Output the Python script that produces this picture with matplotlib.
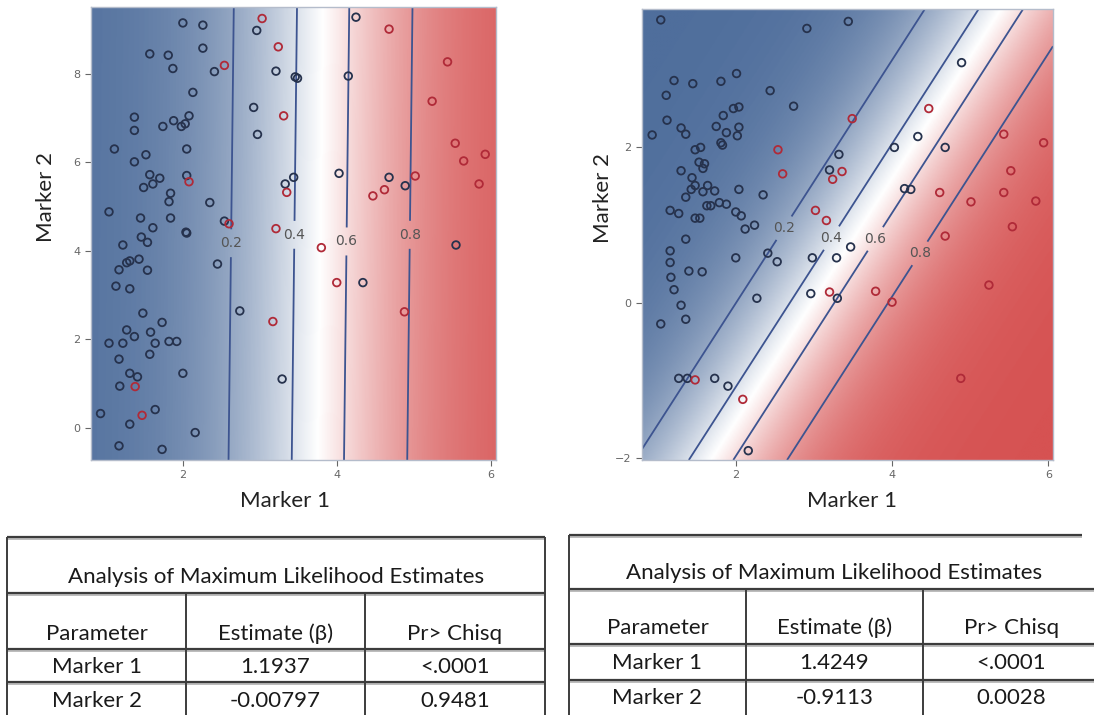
import numpy as np
import matplotlib
matplotlib.use("Agg")
import matplotlib.pyplot as plt
from matplotlib.colors import LinearSegmentedColormap

# ---------------- data ----------------
# Left panel (Marker 1 vs Marker 2), outcome 0 = dark, 1 = red
left_m1 = [2.00, 2.26, 3.03, 2.96, 4.25, 4.68, 2.26, 3.24, 1.57, 1.81, 1.87, 2.54, 2.41, 3.21,
           3.46, 3.49, 4.15, 5.44, 2.13, 5.24, 2.92, 3.31, 1.37, 2.08, 1.88, 1.74, 1.98, 2.03,
           1.37, 2.97, 1.11, 2.05, 5.54, 5.65, 5.93, 1.52, 1.37, 1.57, 1.70, 1.61, 1.49, 2.05,
           2.08, 1.84, 1.82, 2.35, 3.44, 3.33, 3.35, 4.03, 4.68, 4.62, 4.47, 4.89, 5.02, 5.85,
           1.04, 1.45, 1.84, 1.61, 2.04, 2.05, 2.54, 2.60, 3.21, 1.46, 1.54, 1.22, 5.55, 3.80,
           1.43, 1.31, 1.27, 1.17, 1.54, 2.45, 4.00, 4.34, 1.13, 1.31, 1.48, 2.74, 4.88, 1.73,
           3.17, 1.27, 1.58, 1.37, 1.04, 1.22, 1.64, 1.82, 1.92, 1.57, 1.17, 1.31, 1.41, 2.00,
           3.29, 1.18, 1.38, 0.93, 1.64, 1.47, 1.31, 2.16, 1.17, 1.73]
left_m2 = [9.15, 9.10, 9.25, 8.98, 9.28, 9.01, 8.58, 8.61, 8.45, 8.42, 8.12, 8.19, 8.05, 8.06,
           7.93, 7.90, 7.95, 8.27, 7.58, 7.38, 7.24, 7.05, 7.02, 7.05, 6.94, 6.81, 6.81, 6.87,
           6.72, 6.63, 6.30, 6.30, 6.43, 6.03, 6.18, 6.17, 6.01, 5.72, 5.64, 5.51, 5.43, 5.70,
           5.56, 5.30, 5.11, 5.09, 5.66, 5.51, 5.32, 5.75, 5.66, 5.38, 5.24, 5.47, 5.69, 5.51,
           4.88, 4.74, 4.74, 4.52, 4.42, 4.40, 4.67, 4.61, 4.50, 4.31, 4.19, 4.13, 4.13, 4.07,
           3.81, 3.77, 3.73, 3.57, 3.56, 3.70, 3.28, 3.28, 3.20, 3.14, 2.59, 2.64, 2.62, 2.38,
           2.40, 2.21, 2.16, 2.06, 1.91, 1.91, 1.91, 1.95, 1.95, 1.66, 1.55, 1.23, 1.15, 1.23,
           1.10, 0.94, 0.93, 0.32, 0.41, 0.28, 0.08, -0.11, -0.41, -0.49]
left_out = [0, 0, 1, 0, 0, 1, 0, 1, 0, 0, 0, 1, 0, 0,
            0, 0, 0, 1, 0, 1, 0, 1, 0, 0, 0, 0, 0, 0,
            0, 0, 0, 0, 1, 1, 1, 0, 0, 0, 0, 0, 0, 0,
            1, 0, 0, 0, 0, 0, 1, 0, 0, 1, 1, 0, 1, 1,
            0, 0, 0, 0, 0, 0, 0, 1, 1, 0, 0, 0, 0, 1,
            0, 0, 0, 0, 0, 0, 1, 0, 0, 0, 0, 0, 1, 0,
            1, 0, 0, 0, 0, 0, 0, 0, 0, 0, 0, 0, 0, 0,
            0, 0, 1, 0, 0, 1, 0, 0, 0, 0]

# Right panel
right_m1 = [1.04, 2.91, 3.44, 4.89, 2.01, 1.21, 1.45, 1.81, 2.44, 1.11, 2.74, 1.97, 2.04, 4.47,
            1.84, 1.12, 3.49, 1.75, 2.04, 1.30, 1.36, 1.88, 2.02, 0.93, 4.33, 5.43, 5.94, 1.81,
            1.83, 1.48, 1.55, 2.54, 4.03, 4.68, 3.32, 1.53, 1.60, 1.58, 1.30, 1.44, 2.60, 3.20,
            3.36, 3.24, 5.52, 1.48, 1.64, 1.43, 1.58, 1.73, 2.04, 2.35, 1.36, 4.16, 4.24, 4.61,
            5.43, 5.01, 5.84, 1.63, 1.68, 1.79, 1.88, 1.16, 1.27, 2.00, 2.07, 3.02, 1.48, 1.54,
            3.16, 2.12, 2.24, 5.54, 4.68, 1.36, 3.47, 1.16, 2.41, 2.00, 2.98, 3.29, 2.53, 1.16,
            1.40, 1.57, 1.17, 1.21, 2.96, 3.20, 3.79, 2.27, 3.30, 5.24, 4.00, 1.30, 1.36, 1.04,
            1.27, 1.38, 1.48, 1.73, 1.90, 4.88, 2.09, 2.16]
right_m2 = [3.64, 3.53, 3.62, 3.09, 2.95, 2.86, 2.82, 2.85, 2.73, 2.67, 2.53, 2.50, 2.52, 2.50,
            2.41, 2.35, 2.37, 2.27, 2.26, 2.25, 2.17, 2.19, 2.15, 2.16, 2.14, 2.17, 2.06, 2.06,
            2.03, 1.97, 2.00, 1.97, 2.00, 2.00, 1.91, 1.81, 1.79, 1.73, 1.70, 1.61, 1.66, 1.71,
            1.69, 1.59, 1.70, 1.51, 1.51, 1.46, 1.43, 1.44, 1.46, 1.39, 1.36, 1.47, 1.46, 1.42,
            1.42, 1.30, 1.31, 1.25, 1.25, 1.29, 1.27, 1.19, 1.15, 1.17, 1.12, 1.19, 1.09, 1.09,
            1.06, 0.95, 1.00, 0.98, 0.86, 0.82, 0.72, 0.67, 0.64, 0.58, 0.58, 0.58, 0.53, 0.52,
            0.41, 0.40, 0.33, 0.17, 0.12, 0.14, 0.15, 0.06, 0.06, 0.23, 0.01, -0.03, -0.21, -0.27,
            -0.97, -0.97, -0.99, -0.97, -1.07, -0.97, -1.24, -1.90]
right_out = [0, 0, 0, 0, 0, 0, 0, 0, 0, 0, 0, 0, 0, 1,
             0, 0, 1, 0, 0, 0, 0, 0, 0, 0, 0, 1, 1, 0,
             0, 0, 0, 1, 0, 0, 0, 0, 0, 0, 0, 0, 1, 0,
             1, 1, 1, 0, 0, 0, 0, 0, 0, 0, 0, 0, 0, 1,
             1, 1, 1, 0, 0, 0, 0, 0, 0, 0, 0, 1, 0, 0,
             1, 0, 0, 1, 1, 0, 0, 0, 0, 0, 0, 0, 0, 0,
             0, 0, 0, 0, 0, 1, 1, 0, 0, 1, 1, 0, 0, 0,
             0, 0, 1, 0, 0, 1, 1, 0]

# Logistic model coefficients (intercept)
left_coef = [-4.488, 1.1937, -0.00797]
right_coef = [-4.24, 1.4249, -0.9113]
contour_levels = [0.2, 0.4, 0.6, 0.8]
left_label_pos = [(2.63, 4.17), (3.46, 4.36), (4.13, 4.21), (4.95, 4.36)]
right_label_pos = [(2.62, 0.96), (3.20, 0.85), (3.76, 0.84), (4.32, 0.66)]

# Tables
table_title = "Analysis of Maximum Likelihood Estimates"
table_header = ["Parameter", "Estimate (\u03b2)", "Pr> Chisq"]
left_table_rows = [["Marker 1", "1.1937", "<.0001"], ["Marker 2", "-0.00797", "0.9481"]]
right_table_rows = [["Marker 1", "1.4249", "<.0001"], ["Marker 2", "-0.9113", "0.0028"]]

# ---------------- figure ----------------
W, H = 1094, 715
fig = plt.figure(figsize=(W / 100, H / 100), dpi=100)
fig.patch.set_facecolor("white")

cmap = LinearSegmentedColormap.from_list("bwr_sas", ["#4f6e9c", "#ffffff", "#d65252"])
FONT = "Lato"


def px_axes(l, t, r, b):
    return fig.add_axes([l / W, 1 - b / H, (r - l) / W, (b - t) / H])


def panel(ax, m1, m2, out, coef, xlim, ylim, yticks, label_pos, ylab_x, xlab_x):
    xs = np.linspace(xlim[0], xlim[1], 400)
    ys = np.linspace(ylim[0], ylim[1], 400)
    X, Y = np.meshgrid(xs, ys)
    P = 1 / (1 + np.exp(-(coef[0] + coef[1] * X + coef[2] * Y)))
    ax.imshow(P, extent=[xlim[0], xlim[1], ylim[0], ylim[1]], origin="lower",
              aspect="auto", cmap=cmap, vmin=0, vmax=1, interpolation="bilinear", zorder=0)
    cs = ax.contour(X, Y, P, levels=contour_levels, colors="#3d5490", linewidths=1.3, zorder=1)
    ax.clabel(cs, fmt="%.1f", fontsize=10, colors="#555555", inline=True,
              inline_spacing=3, manual=label_pos, rightside_up=True)
    for t in cs.labelTexts:
        t.set_rotation(0)
    m1 = np.asarray(m1); m2 = np.asarray(m2); out = np.asarray(out)
    ax.scatter(m1[out == 0], m2[out == 0], s=30, facecolors="none", edgecolors="#26324d",
               linewidths=1.3, zorder=3)
    ax.scatter(m1[out == 1], m2[out == 1], s=30, facecolors="none", edgecolors="#b02a38",
               linewidths=1.3, zorder=3)
    ax.set_xlim(*xlim)
    ax.set_ylim(*ylim)
    ax.set_xticks([2, 4, 6])
    ax.set_yticks(yticks)
    ax.tick_params(labelsize=8, colors="#666666", length=4, width=0.8, direction="out")
    for s in ax.spines.values():
        s.set_color("#b4bccb")
        s.set_linewidth(1.0)
    ax.set_xlabel("Marker 1", fontsize=16, family=FONT, color="#222222")
    ax.xaxis.set_label_coords(xlab_x, -0.068)
    ax.set_ylabel("Marker 2", fontsize=16, family=FONT, color="#222222")
    ax.yaxis.set_label_coords(ylab_x, 0.58)


axL = px_axes(91, 7, 496, 460)
panel(axL, left_m1, left_m2, left_out, left_coef, (0.806, 6.07), (-0.73, 9.51),
      [0, 2, 4, 6, 8], left_label_pos, -0.086, 0.48)

axR = px_axes(642, 9, 1053, 460)
panel(axR, right_m1, right_m2, right_out, right_coef, (0.80, 6.06), (-2.02, 3.78),
      [-2, 0, 2], right_label_pos, -0.07, 0.51)

# ---------------- tables ----------------
tax = fig.add_axes([0, 0, 1, 1])
tax.set_xlim(0, W)
tax.set_ylim(H, 0)
tax.axis("off")
tax.patch.set_alpha(0)

LC = "#3c3c3c"


def hline(y, x0, x1):
    tax.plot([x0, x1], [y + 1.5, y + 1.5], color="#b0b0b0", lw=1.2, solid_capstyle="butt")
    tax.plot([x0, x1], [y, y], color=LC, lw=1.6, solid_capstyle="butt")


def vline(x, y0, y1):
    tax.plot([x, x], [y0, y1], color=LC, lw=1.4, solid_capstyle="butt")


def table(x0, x1, c1, c2, ytop, ytitle, yhead, yrow1, rows, ty, hy, r1y, r2y, right_border=True,
          top_end=None):
    hline(ytop, x0, top_end if top_end else x1)
    hline(ytitle, x0, x1)
    hline(yhead, x0, x1)
    hline(yrow1, x0, x1)
    vline(x0, ytop, H)
    if right_border:
        vline(x1, ytop, H)
    vline(c1, ytitle, H)
    vline(c2, ytitle, H)
    kw = dict(family=FONT, fontsize=16, color="#1a1a1a", ha="center", va="center")
    right_edge = x1 if right_border else 1100
    tax.text((x0 + right_edge) / 2, ty, table_title, **kw)
    centers = [(x0 + c1) / 2, (c1 + c2) / 2, (c2 + right_edge) / 2]
    for cx, h in zip(centers, table_header):
        tax.text(cx, hy, h, **kw)
    for cx, v in zip(centers, rows[0]):
        tax.text(cx, r1y, v, **kw)
    for cx, v in zip(centers, rows[1]):
        tax.text(cx, r2y, v, **kw)


table(7, 545, 186, 365, 537, 593, 649, 682, left_table_rows, 577, 634, 667, 701)
table(569, 1094, 746, 923, 535, 589, 644, 680, right_table_rows, 573, 628, 663, 698,
      right_border=False, top_end=1082)

fig.savefig("out.png", dpi=100, facecolor="white")
